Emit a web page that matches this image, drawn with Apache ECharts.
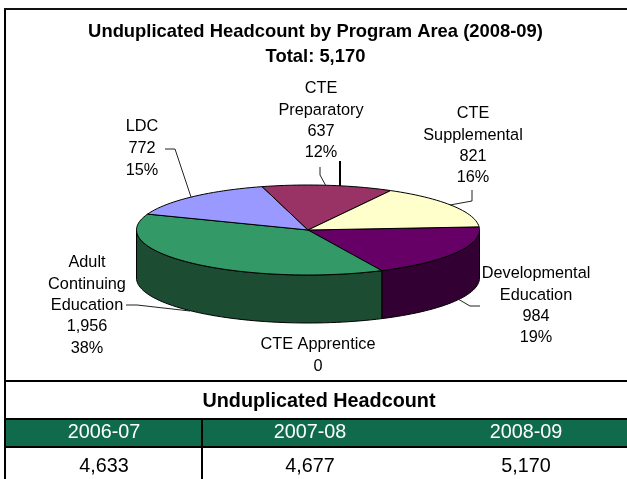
<!DOCTYPE html>
<html>
<head>
<meta charset="utf-8">
<title>Unduplicated Headcount by Program Area</title>
<script src="https://cdn.jsdelivr.net/npm/echarts@6/dist/echarts.min.js"></script>
<style>
  html, body { margin: 0; padding: 0; background: #fff; overflow: hidden; }
  #chart { width: 627px; height: 479px; }
</style>
</head>
<body>
<div id="chart"></div>
<script>
// pie data, clockwise from the right edge of the disc
var categories = ['Developmental\nEducation', 'Adult\nContinuing\nEducation', 'LDC', 'CTE\nPreparatory', 'CTE\nSupplemental', 'CTE Apprentice']
var headcounts = [984, 1956, 772, 637, 821, 0]
var percents = ['19%', '38%', '15%', '12%', '16%', '']
var totalText = '5,170'

// table under the pie
var years = ['2006-07', '2007-08', '2008-09']
var yearTotals = ['4,633', '4,677', '5,170']

var topColors = ['#660066', '#339966', '#9999FF', '#993366', '#FFFFCC', '#FF8080']
var sideColors = ['#330033', '#1C4D33', '#4D4D80', '#4D1A33', '#808066', '#804040']

var FONT = '"Liberation Sans", Arial, sans-serif'
var cx = 308, cy = 230, rx = 171.5, ry = 45, depth = 48
var startAngle = -4

function fmt(n) {
  return String(n).replace(/\B(?=(\d{3})+$)/g, ',')
}

function ellipsePoints(from, to, offsetY) {
  var pts = []
  var steps = Math.max(2, Math.ceil(Math.abs(to - from) / 2))
  for (var i = 0; i <= steps; i++) {
    var a = (from + (to - from) * i / steps) * Math.PI / 180
    pts.push([cx + rx * Math.cos(a), cy + offsetY + ry * Math.sin(a)])
  }
  return pts
}

function renderSlice(params, api) {
  var total = headcounts.reduce(function (s, v) { return s + v }, 0)
  var before = 0
  for (var i = 0; i < params.dataIndex; i++) before += headcounts[i]
  var from = startAngle + before / total * 360
  var to = from + api.value(0) / total * 360
  var children = []
  if (to <= from) return { type: 'group', children: children }

  // only the part of the rim between 0 and 180 degrees faces the viewer
  var wallFrom = Math.max(from, 0)
  var wallTo = Math.min(to, 180)
  if (wallTo > wallFrom) {
    var wall = ellipsePoints(wallFrom, wallTo, 0).concat(ellipsePoints(wallTo, wallFrom, depth))
    children.push({
      type: 'polygon',
      shape: { points: wall },
      style: { fill: sideColors[params.dataIndex], stroke: '#000', lineWidth: 1 }
    })
  }
  children.push({
    type: 'polygon',
    shape: { points: [[cx, cy]].concat(ellipsePoints(from, to, 0)) },
    style: { fill: topColors[params.dataIndex], stroke: '#000', lineWidth: 1 }
  })
  return { type: 'group', children: children }
}

function textEl(str, x, y, size, bold, color) {
  return {
    type: 'text',
    x: x,
    y: y,
    z: 10,
    silent: true,
    style: {
      text: str,
      fill: color || '#000',
      font: (bold ? 'bold ' : '') + size + 'px ' + FONT,
      align: 'center',
      verticalAlign: 'middle'
    }
  }
}

function lineEl(points, width, color) {
  return {
    type: 'polyline',
    z: 5,
    silent: true,
    shape: { points: points },
    style: { stroke: color || '#000', lineWidth: width, fill: null }
  }
}

function rectEl(x, y, w, h, color) {
  return { type: 'rect', z: 1, silent: true, shape: { x: x, y: y, width: w, height: h }, style: { fill: color } }
}

// one label per category: x centre and y of the first line
var labelSpots = [
  { x: 536, y: 274, gap: 21.3 },
  { x: 87, y: 263, gap: 21.3 },
  { x: 142, y: 127, gap: 22 },
  { x: 321, y: 89, gap: 21.3 },
  { x: 473, y: 114, gap: 21.3 },
  { x: 318, y: 345, gap: 22 }
]

var graphics = []

// frame and table rules
graphics.push(rectEl(4, 8, 2, 471, '#000'))
graphics.push(rectEl(4, 8, 623, 2, '#111'))
graphics.push(rectEl(5, 380, 622, 2, '#000'))
graphics.push(rectEl(5, 418, 622, 2, '#000'))
graphics.push(rectEl(6, 420, 621, 26, '#0F6B4C'))
graphics.push(rectEl(5, 446, 622, 2, '#000'))
graphics.push(rectEl(201, 420, 2, 59, '#000'))

graphics.push(textEl('Unduplicated Headcount by Program Area (2008-09)', 315.5, 32, 18.4, true))
graphics.push(textEl('Total: ' + totalText, 315.5, 57, 18.4, true))

categories.forEach(function (name, i) {
  var lines = name.split('\n').concat([fmt(headcounts[i])])
  if (percents[i]) lines.push(percents[i])
  lines.forEach(function (line, k) {
    graphics.push(textEl(line, labelSpots[i].x, labelSpots[i].y + k * labelSpots[i].gap, 16.3))
  })
})

// leader lines
graphics.push(lineEl([[165, 149], [175, 149], [191, 197]], 1, '#222'))
graphics.push(lineEl([[320, 167], [320, 175], [326, 186]], 1, '#222'))
graphics.push(lineEl([[340, 161], [340, 186]], 2, '#000'))
graphics.push(lineEl([[472, 190], [472, 201], [450, 205]], 1, '#222'))
graphics.push(lineEl([[458, 299], [470, 306], [480, 306]], 1, '#222'))
graphics.push(lineEl([[126, 305], [137, 305], [190, 311]], 1, '#222'))

// table text
graphics.push(textEl('Unduplicated Headcount', 319, 402, 19.8, true))
var colX = [104, 310, 526]
years.forEach(function (y, i) {
  graphics.push(textEl(y, colX[i], 433, 19.8, false, '#fff'))
  graphics.push(textEl(yearTotals[i], colX[i], 467, 19.8, false))
})

var chart = echarts.init(document.getElementById('chart'))
chart.setOption({
  animation: false,
  backgroundColor: '#fff',
  tooltip: { show: false },
  graphic: { elements: graphics },
  series: [{
    type: 'custom',
    coordinateSystem: 'none',
    z: 3,
    silent: true,
    renderItem: renderSlice,
    data: headcounts.map(function (v, i) {
      return { name: categories[i], value: [v] }
    })
  }]
})
</script>
</body>
</html>
